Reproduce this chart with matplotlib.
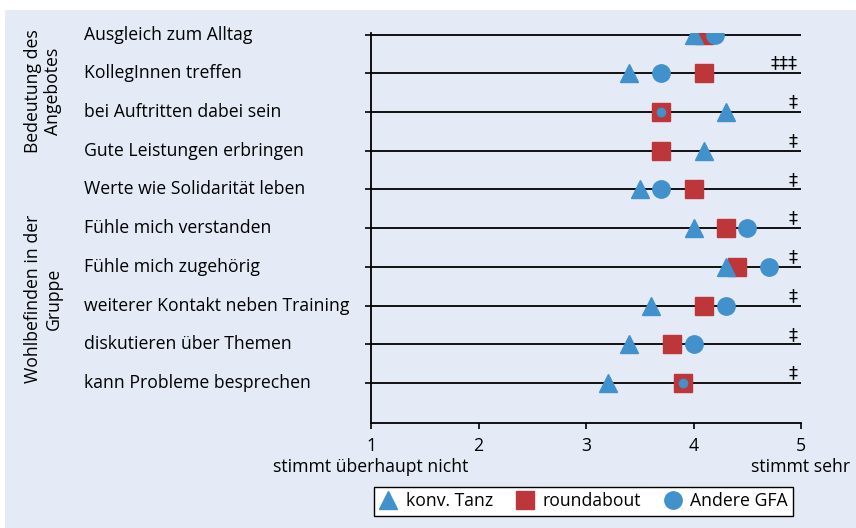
import numpy as np
import matplotlib.pyplot as plt
from matplotlib.patches import Rectangle
from matplotlib.lines import Line2D

plt.rcParams['font.family'] = ['Open Sans', 'DejaVu Sans']

# Daten (Mittelwerte, Skala 1-5)
items = ['Ausgleich zum Alltag', 'KollegInnen treffen', 'bei Auftritten dabei sein',
         'Gute Leistungen erbringen', 'Werte wie Solidarität leben',
         'Fühle mich verstanden', 'Fühle mich zugehörig',
         'weiterer Kontakt neben Training', 'diskutieren über Themen',
         'kann Probleme besprechen']
konv_tanz = [4.0, 3.4, 4.3, 4.1, 3.5, 4.0, 4.3, 3.6, 3.4, 3.2]
roundabout = [4.1, 4.1, 3.7, 3.7, 4.0, 4.3, 4.4, 4.1, 3.8, 3.9]
andere_gfa = [4.2, 3.7, 3.7, np.nan, 3.7, 4.5, 4.7, 4.3, 4.0, 3.9]
signif = ['', '‡‡‡', '‡', '‡', '‡', '‡', '‡', '‡', '‡', '‡']
groups = ['Bedeutung des\nAngebotes', 'Wohlbefinden in der\nGruppe']
group_rows = [(0, 3), (4, 9)]
group_shift = [1, -9]   # pt, Feinausrichtung der Gruppenlabels
xticks = [1, 2, 3, 4, 5]
scale_ends = ['stimmt überhaupt nicht', 'stimmt sehr']

blue = '#4191cd'
red = '#bd363a'
bg = '#e4ebf6'
fs = 12.7

fig = plt.figure(figsize=(8.56, 5.28), dpi=100, facecolor=bg)
# weisser Rand oben und links
fig.patches.append(Rectangle((0, 518 / 528), 1, 10 / 528, transform=fig.transFigure,
                             facecolor='white', edgecolor='none', zorder=-1))
fig.patches.append(Rectangle((0, 0), 5 / 856, 1, transform=fig.transFigure,
                             facecolor='white', edgecolor='none', zorder=-1))
ax = fig.add_axes([371 / 856, 105 / 528, 430 / 856, 390 / 528])
ax.set_facecolor('none')

y = np.arange(len(items))
ax.hlines(y, 1, 5.01, color='black', lw=1.3, zorder=1)

# kleiner Kreis, wenn er genau auf dem Quadrat liegt
same = np.isclose(np.array(andere_gfa), np.array(roundabout))
ax.plot(roundabout, y, 's', color=red, ms=13, ls='none', zorder=3)
ax.plot(konv_tanz, y, '^', color=blue, ms=13, ls='none', zorder=4)
gfa = np.array(andere_gfa)
ax.plot(gfa[~same], y[~same], 'o', color=blue, ms=12.5, ls='none', zorder=5)
ax.plot(gfa[same], y[same], 'o', color=blue, ms=6, ls='none', zorder=5)

for yi, s in zip(y, signif):
    if s:
        ax.annotate(s, (5, yi), xytext=(-2.5, 7), textcoords='offset points',
                    ha='right', va='center', fontsize=13, family='DejaVu Sans',
                    zorder=6)

ax.set_xlim(1, 5)
ax.set_ylim(len(items) - 1 + 1.03, -0.04)
ax.set_xticks(xticks)
ax.set_xticklabels([str(t) for t in xticks], fontsize=fs)
ax.set_yticks(y)
ax.set_yticklabels([])
ax.tick_params(axis='both', direction='out', length=4, width=1.2, colors='black')
ax.tick_params(axis='x', pad=6)
for sp in ['top', 'right']:
    ax.spines[sp].set_visible(False)
for sp in ['left', 'bottom']:
    ax.spines[sp].set_linewidth(1.3)

# Item-Beschriftungen
for yi, lab in zip(y, items):
    ax.annotate(lab, (0, yi), xycoords=('figure fraction', 'data'),
                xytext=(84 * 0.72, 0), textcoords='offset points',
                ha='left', va='center', fontsize=fs)

# Gruppenbeschriftungen
for g, (a, b), dy in zip(groups, group_rows, group_shift):
    ax.annotate(g, (0, (a + b) / 2), xycoords=('figure fraction', 'data'),
                xytext=(43 * 0.72, dy), textcoords='offset points',
                ha='center', va='center', rotation=90, fontsize=fs,
                multialignment='center', linespacing=1.2)

# Skalenenden unter 1 und 5
for xv, lab in zip([xticks[0], xticks[-1]], scale_ends):
    ax.annotate(lab, (xv, 0), xycoords=('data', 'axes fraction'),
                xytext=(0, -44 * 0.72), textcoords='offset points',
                ha='center', va='center', fontsize=fs, annotation_clip=False)

handles = [Line2D([], [], marker='^', color=blue, ls='none', ms=13),
           Line2D([], [], marker='s', color=red, ls='none', ms=13),
           Line2D([], [], marker='o', color=blue, ls='none', ms=12.5)]
fig.legend(handles, ['konv. Tanz', 'roundabout', 'Andere GFA'],
           loc='center', bbox_to_anchor=(583.5 / 856, 1 - 501.5 / 528), ncol=3,
           frameon=True, fancybox=False, edgecolor='black', framealpha=1,
           fontsize=fs, handlelength=1.0, handletextpad=0.5,
           columnspacing=1.3, borderpad=0.3, borderaxespad=0)

fig.savefig('out.png', dpi=100, facecolor=bg)
